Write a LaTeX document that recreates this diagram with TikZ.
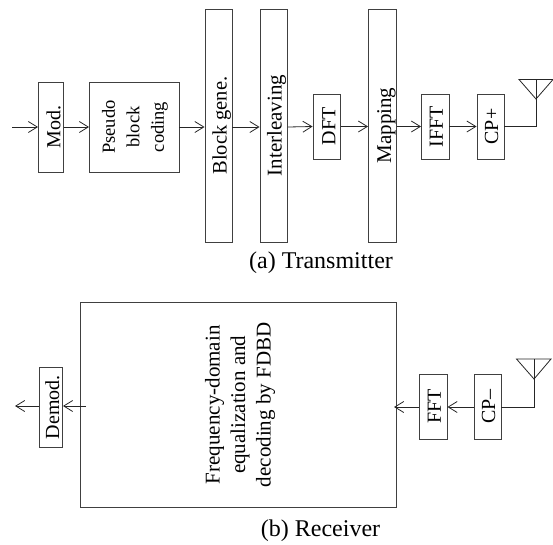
\documentclass[tikz,border=0pt]{standalone}
\usepackage{fontspec}
\setmainfont{Liberation Serif}
\usetikzlibrary{arrows.meta}
\tikzset{
  blockbox/.style={draw=black!75, line width=0.9pt, rotate=90, inner sep=0pt,
    font=\fontsize{21}{25}\selectfont, text depth=0pt},
  smallbox/.style={blockbox, minimum width=65pt, text height=15pt, font=\fontsize{20}{25}\selectfont},
  wrapbox/.style={draw=black!75, line width=0.9pt, rotate=90, inner sep=0pt, align=center},
  sigline/.style={black!85, line width=0.8pt},
  sigarrow/.style={sigline, -{Straight Barb[length=9pt,width=11pt,line width=0.8pt]}},
  captiontext/.style={inner sep=0pt, anchor=base, font=\fontsize{24}{26}\selectfont},
}
\begin{document}
\begin{tikzpicture}[x=1pt,y=-1pt]
  \useasboundingbox (0,0) rectangle (553,544);

  % Transmisor.
  \coordinate (txin) at (12,127);
  \node[blockbox, minimum width=90pt, minimum height=25pt, text height=18.5pt, font=\fontsize{20}{25}\selectfont] (mod) at (51,127) {Mod.};
  \node[wrapbox, minimum width=90pt, minimum height=89.5pt,
    font=\fontsize{18.5}{24.5}\selectfont] (coding) at (134.25,127)
    {\rule{0pt}{14pt}Pseudo\\ block\\ coding};
  \node[blockbox, minimum width=233pt, minimum height=27pt, text height=16pt, font=\fontsize{20.5}{25}\selectfont] (blockgen) at (218.5,125.5) {Block gene.};
  \node[blockbox, minimum width=233pt, minimum height=27.5pt, text height=15.5pt] (interl) at (273.75,125.5) {Interleaving};
  \node[smallbox, minimum height=27.5pt, text height=17pt] (dft) at (326.75,126.5) {DFT};
  \node[blockbox, minimum width=233pt, minimum height=28pt, text height=17pt] (mapping) at (382.5,125.5) {Mapping};
  \node[smallbox, minimum height=27.5pt] (ifft) at (435.25,126.5) {IFFT};
  \node[smallbox, minimum height=27pt] (cpadd) at (490.5,126.5) {CP+};

  \draw[sigarrow] (txin) -- (mod.north);
  \draw[sigarrow] (mod.south) -- (coding.north);
  \draw[sigarrow] (coding.south) -- (coding.south -| blockgen.north);
  \draw[sigarrow] (coding.south -| blockgen.south) -- (coding.south -| interl.north);
  \draw[sigarrow] (coding.south -| interl.south) -- (dft.north);
  \draw[sigarrow] (dft.south) -- (dft.south -| mapping.north);
  \draw[sigarrow] (ifft.north -| mapping.south) -- (ifft.north);
  \draw[sigarrow] (ifft.south) -- (cpadd.north);

  % Antena do transmisor.
  \coordinate (txtip) at (536,99);
  \coordinate (txtop) at (536,79.5);
  \draw[sigline] (cpadd.south) -- (cpadd.south -| txtip) -- (txtop);
  \draw[sigline] (519,79.5) -- (553,79.5) -- (txtip) -- cycle;

  \node[captiontext] (captx) at (321,268) {(a) Transmitter};

  % Receptor.
  \node[wrapbox, minimum width=205.5pt, minimum height=316pt,
    font=\fontsize{21}{25.5}\selectfont] (equal) at (238.5,404.75)
    {\rule{0pt}{18pt}Frequency-domain\\ equalization and\\ decoding by FDBD};
  \node[blockbox, minimum width=80.5pt, minimum height=23pt, text height=16pt, font=\fontsize{20}{25}\selectfont] (demod) at (51,407.25) {Demod.};
  \node[smallbox, minimum height=27.5pt] (fft) at (433.25,406.5) {FFT};
  \node[smallbox, minimum height=27pt] (cprem) at (487.5,406.5) {CP--};

  \coordinate (rxout) at (15,406);
  \coordinate (eqleft) at (86,406);
  \coordinate (eqright) at (394,407);
  \draw[sigarrow] (demod.north |- rxout) -- (rxout);
  \draw[sigarrow] (eqleft) -- (demod.south |- eqleft);
  \draw[sigarrow] (fft.north |- eqright) -- (eqright);
  \draw[sigarrow] (cprem.north |- eqright) -- (fft.south |- eqright);

  % Antena do receptor.
  \coordinate (rxtip) at (534,379);
  \coordinate (rxtop) at (534,359);
  \draw[sigline] (cprem.south |- eqright) -- (rxtip |- eqright) -- (rxtop);
  \draw[sigline] (516.5,359) -- (551,359) -- (rxtip) -- cycle;

  \node[captiontext] (caprx) at (320.5,536.5) {(b) Receiver};
\end{tikzpicture}
\end{document}
